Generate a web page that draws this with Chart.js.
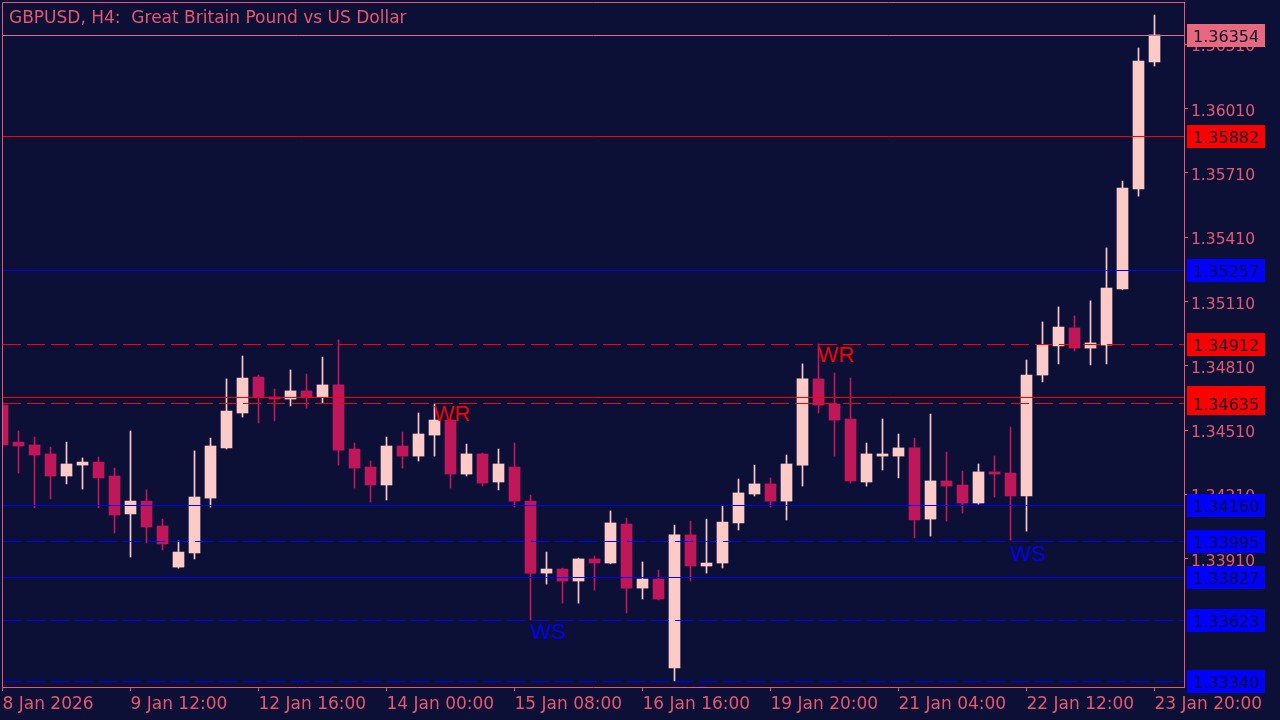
<!DOCTYPE html>
<html><head><meta charset="utf-8">
<script src="https://cdn.jsdelivr.net/npm/chart.js@4.4.1/dist/chart.umd.min.js"></script>
<style>html,body{margin:0;padding:0;background:#0d1036;overflow:hidden}</style>
</head><body>
<canvas id="c" width="1280" height="720"></canvas>
<script>
// ---------- data ----------
const title = 'GBPUSD, H4:  Great Britain Pound vs US Dollar';
const tickIndex = [0, 8, 16, 24, 32, 40, 48, 56, 64, 72];
const tickLabels = ['8 Jan 2026', '9 Jan 12:00', '12 Jan 16:00', '14 Jan 00:00', '15 Jan 08:00',
  '16 Jan 16:00', '19 Jan 20:00', '21 Jan 04:00', '22 Jan 12:00', '23 Jan 20:00'];
const yTicks = [1.33910, 1.34210, 1.34510, 1.34810, 1.35110, 1.35410, 1.35710, 1.36010, 1.36310];

const opens = [1.34627,1.34454,1.34441,1.34399,1.34296,1.34347,1.34361,1.34296,1.34119,1.34179,
1.34063,1.33871,1.33937,1.34193,1.34427,1.34590,1.34758,1.34665,1.34655,1.34693,
1.34665,1.34721,1.34422,1.34338,1.34254,1.34436,1.34389,1.34487,1.34557,1.34305,
1.34399,1.34268,1.34338,1.34179,1.33843,1.33862,1.33806,1.33909,1.33890,1.34072,
1.33773,1.33815,1.33400,1.34021,1.33876,1.33890,1.34077,1.34212,1.34259,1.34179,
1.34347,1.34749,1.34632,1.34562,1.34268,1.34389,1.34389,1.34427,1.34095,1.34273,
1.34254,1.34170,1.34315,1.34310,1.34203,1.34767,1.34903,1.34987,1.34893,1.34907,
1.35169,1.35635,1.36228];
const highs = [1.34641,1.34506,1.34478,1.34431,1.34454,1.34380,1.34385,1.34333,1.34506,1.34231,
1.34095,1.33993,1.34413,1.34473,1.34749,1.34856,1.34767,1.34702,1.34791,1.34772,
1.34851,1.34931,1.34450,1.34366,1.34478,1.34501,1.34590,1.34632,1.34562,1.34445,
1.34403,1.34422,1.34450,1.34207,1.33941,1.33866,1.33913,1.33923,1.34133,1.34100,
1.33895,1.33857,1.34067,1.34086,1.34095,1.34156,1.34282,1.34347,1.34287,1.34394,
1.34819,1.34912,1.34777,1.34753,1.34450,1.34562,1.34492,1.34473,1.34585,1.34408,
1.34319,1.34352,1.34389,1.34525,1.34837,1.35015,1.35085,1.35043,1.35113,1.35360,
1.35672,1.36293,1.36447];
const lows = [1.34427,1.34310,1.34147,1.34189,1.34259,1.34235,1.34147,1.34030,1.33918,1.33983,
1.33951,1.33866,1.33909,1.34151,1.34422,1.34571,1.34543,1.34553,1.34623,1.34613,
1.34637,1.34347,1.34240,1.34175,1.34184,1.34333,1.34366,1.34389,1.34240,1.34296,
1.34249,1.34231,1.34151,1.33624,1.33792,1.33703,1.33703,1.33764,1.33886,1.33657,
1.33722,1.33718,1.33340,1.33806,1.33843,1.33867,1.34044,1.34203,1.34151,1.34091,
1.34249,1.34590,1.34389,1.34263,1.34249,1.34324,1.34287,1.34007,1.34016,1.34086,
1.34123,1.34165,1.34198,1.33997,1.34039,1.34735,1.34819,1.34879,1.34814,1.34819,
1.35165,1.35602,1.36209];
const closes = [1.34441,1.34436,1.34394,1.34296,1.34352,1.34361,1.34287,1.34114,1.34179,1.34058,
1.33979,1.33941,1.34198,1.34436,1.34599,1.34753,1.34665,1.34655,1.34693,1.34665,
1.34721,1.34417,1.34333,1.34254,1.34436,1.34389,1.34492,1.34557,1.34305,1.34399,
1.34263,1.34352,1.34179,1.33843,1.33862,1.33806,1.33909,1.33890,1.34077,1.33773,
1.33815,1.33722,1.34021,1.33876,1.33890,1.34081,1.34217,1.34259,1.34179,1.34352,
1.34749,1.34627,1.34557,1.34273,1.34399,1.34399,1.34427,1.34091,1.34273,1.34249,
1.34170,1.34315,1.34305,1.34203,1.34767,1.34907,1.34991,1.34893,1.34917,1.35173,
1.35640,1.36232,1.36354];

// horizontal levels (drawn in this order)
const levelPrices = [1.36354, 1.35882, 1.35257, 1.34912, 1.34665, 1.34635, 1.34160, 1.33995, 1.33827, 1.33623, 1.33340];
const levelKinds  = ['price', 'red', 'blue', 'red', 'red', 'red', 'blue', 'blue', 'blue', 'blue', 'blue'];
const levelDashed = [false, false, false, true, false, true, false, true, false, true, true];

// text markers
const markerIndex = [27, 51, 33, 42, 63];
const markerText  = ['WR', 'WR', 'WS', 'WS', 'WS'];
const markerPrice = [1.34627, 1.34903, 1.33610, 1.33321, 1.33974];

// ---------- style ----------
const BG = '#0d1036';
const AXIS = '#e8566f';
const BULL = '#fccbc8';
const BEAR = '#bf175a';
const KIND_COLORS = { price: '#e8687e', red: '#ff0000', blue: '#0000ff' };
const LINE_COLORS = { price: '#d77088', red: '#ff0000', blue: '#0000ff' };
const MARK_COLORS = { WR: '#ff0000', WS: '#0000ff' };

const idx = opens.map((_, i) => i);
const candleColors = idx.map(i => closes[i] >= opens[i] ? BULL : BEAR);

const bgPlugin = {
  id: 'bg',
  beforeDraw(chart) {
    const c = chart.ctx;
    c.save(); c.fillStyle = BG; c.fillRect(0, 0, chart.width, chart.height); c.restore();
  }
};

const overlayPlugin = {
  id: 'overlay',
  afterDatasetsDraw(chart) {
    const c = chart.ctx, a = chart.chartArea, ys = chart.scales.y, xs = chart.scales.x;
    c.save();
    c.beginPath(); c.rect(a.left, a.top, a.right - a.left, a.bottom - a.top); c.clip();
    levelPrices.forEach((p, i) => {
      const y = Math.round(ys.getPixelForValue(p)) + 0.5;
      c.strokeStyle = LINE_COLORS[levelKinds[i]];
      c.lineWidth = 1;
      c.setLineDash(levelDashed[i] ? [18, 6] : []);
      c.beginPath(); c.moveTo(a.left + 1, y); c.lineTo(a.right, y); c.stroke();
    });
    c.setLineDash([]);
    c.font = '22px "Liberation Sans", Arial, sans-serif';
    c.textAlign = 'left'; c.textBaseline = 'alphabetic';
    markerIndex.forEach((k, i) => {
      const x = Math.round(xs.getPixelForValue(k)) - 1;
      const y = ys.getPixelForValue(markerPrice[i]) + 16;
      c.fillStyle = MARK_COLORS[markerText[i]];
      c.fillText(markerText[i], x, y);
    });
    c.restore();
  },
  afterDraw(chart) {
    const c = chart.ctx, a = chart.chartArea, ys = chart.scales.y;
    c.save();
    // frame (top & left)
    c.strokeStyle = AXIS; c.lineWidth = 1;
    c.beginPath(); c.moveTo(a.left + 0.5, a.bottom); c.lineTo(a.left + 0.5, a.top + 0.5); c.lineTo(a.right, a.top + 0.5); c.stroke();
    // title
    c.fillStyle = AXIS; c.font = '17px "DejaVu Sans", sans-serif';
    c.textAlign = 'left'; c.textBaseline = 'alphabetic';
    c.fillText(title, 9, 23);
    // price boxes
    c.font = '16px "DejaVu Sans", sans-serif';
    levelPrices.forEach((p, i) => {
      const y = Math.round(ys.getPixelForValue(p));
      c.fillStyle = KIND_COLORS[levelKinds[i]];
      c.fillRect(a.right + 3, y - 11, 78, 23);
      c.fillStyle = BG;
      c.fillText(p.toFixed(5), a.right + 9, y + 7);
    });
    c.restore();
  }
};

new Chart(document.getElementById('c'), {
  type: 'bar',
  data: {
    datasets: [
      { data: idx.map(i => ({ x: i, y: [lows[i], highs[i]] })), backgroundColor: candleColors,
        barThickness: 1, grouped: false, borderWidth: 0, order: 2 },
      { data: idx.map(i => ({ x: i, y: [opens[i], closes[i]] })), backgroundColor: candleColors,
        barThickness: 11, grouped: false, borderWidth: 0, order: 1 }
    ]
  },
  options: {
    responsive: false, animation: false, devicePixelRatio: 1,
    layout: { padding: { left: 2, top: 2, right: 0, bottom: 0 } },
    plugins: { legend: { display: false }, tooltip: { enabled: false }, title: { display: false } },
    scales: {
      x: {
        type: 'linear', min: -0.03125, max: 73.84375, offset: false,
        afterBuildTicks: s => { s.ticks = tickIndex.map(v => ({ value: v })); },
        afterFit: s => { s.height = 33; s.paddingLeft = 0; s.paddingRight = 0; s.paddingTop = 0; s.paddingBottom = 0; },
        ticks: {
          autoSkip: false, maxRotation: 0, minRotation: 0, align: 'start', padding: 3,
          color: AXIS, font: { family: '"DejaVu Sans", sans-serif', size: 17 },
          callback: v => { const j = tickIndex.indexOf(v); return j >= 0 ? tickLabels[j] : ''; }
        },
        grid: { drawOnChartArea: false, drawTicks: true, tickLength: 4, tickColor: AXIS, color: AXIS, offset: false },
        border: { display: true, color: AXIS, width: 1 }
      },
      y: {
        type: 'linear', position: 'right', min: 1.333115, max: 1.365077, beginAtZero: false,
        afterBuildTicks: s => { s.ticks = yTicks.map(v => ({ value: v })); },
        afterFit: s => { s.width = 96; s.paddingLeft = 0; s.paddingRight = 0; s.paddingTop = 0; s.paddingBottom = 0; },
        ticks: {
          autoSkip: false, crossAlign: 'near', padding: 3, labelOffset: 3,
          color: AXIS, font: { family: '"DejaVu Sans", sans-serif', size: 15.5 },
          callback: v => Number(v).toFixed(5)
        },
        grid: { drawOnChartArea: false, drawTicks: true, tickLength: 4, tickColor: AXIS, color: AXIS },
        border: { display: true, color: AXIS, width: 1 }
      }
    }
  },
  plugins: [bgPlugin, overlayPlugin]
});
</script>
</body></html>
